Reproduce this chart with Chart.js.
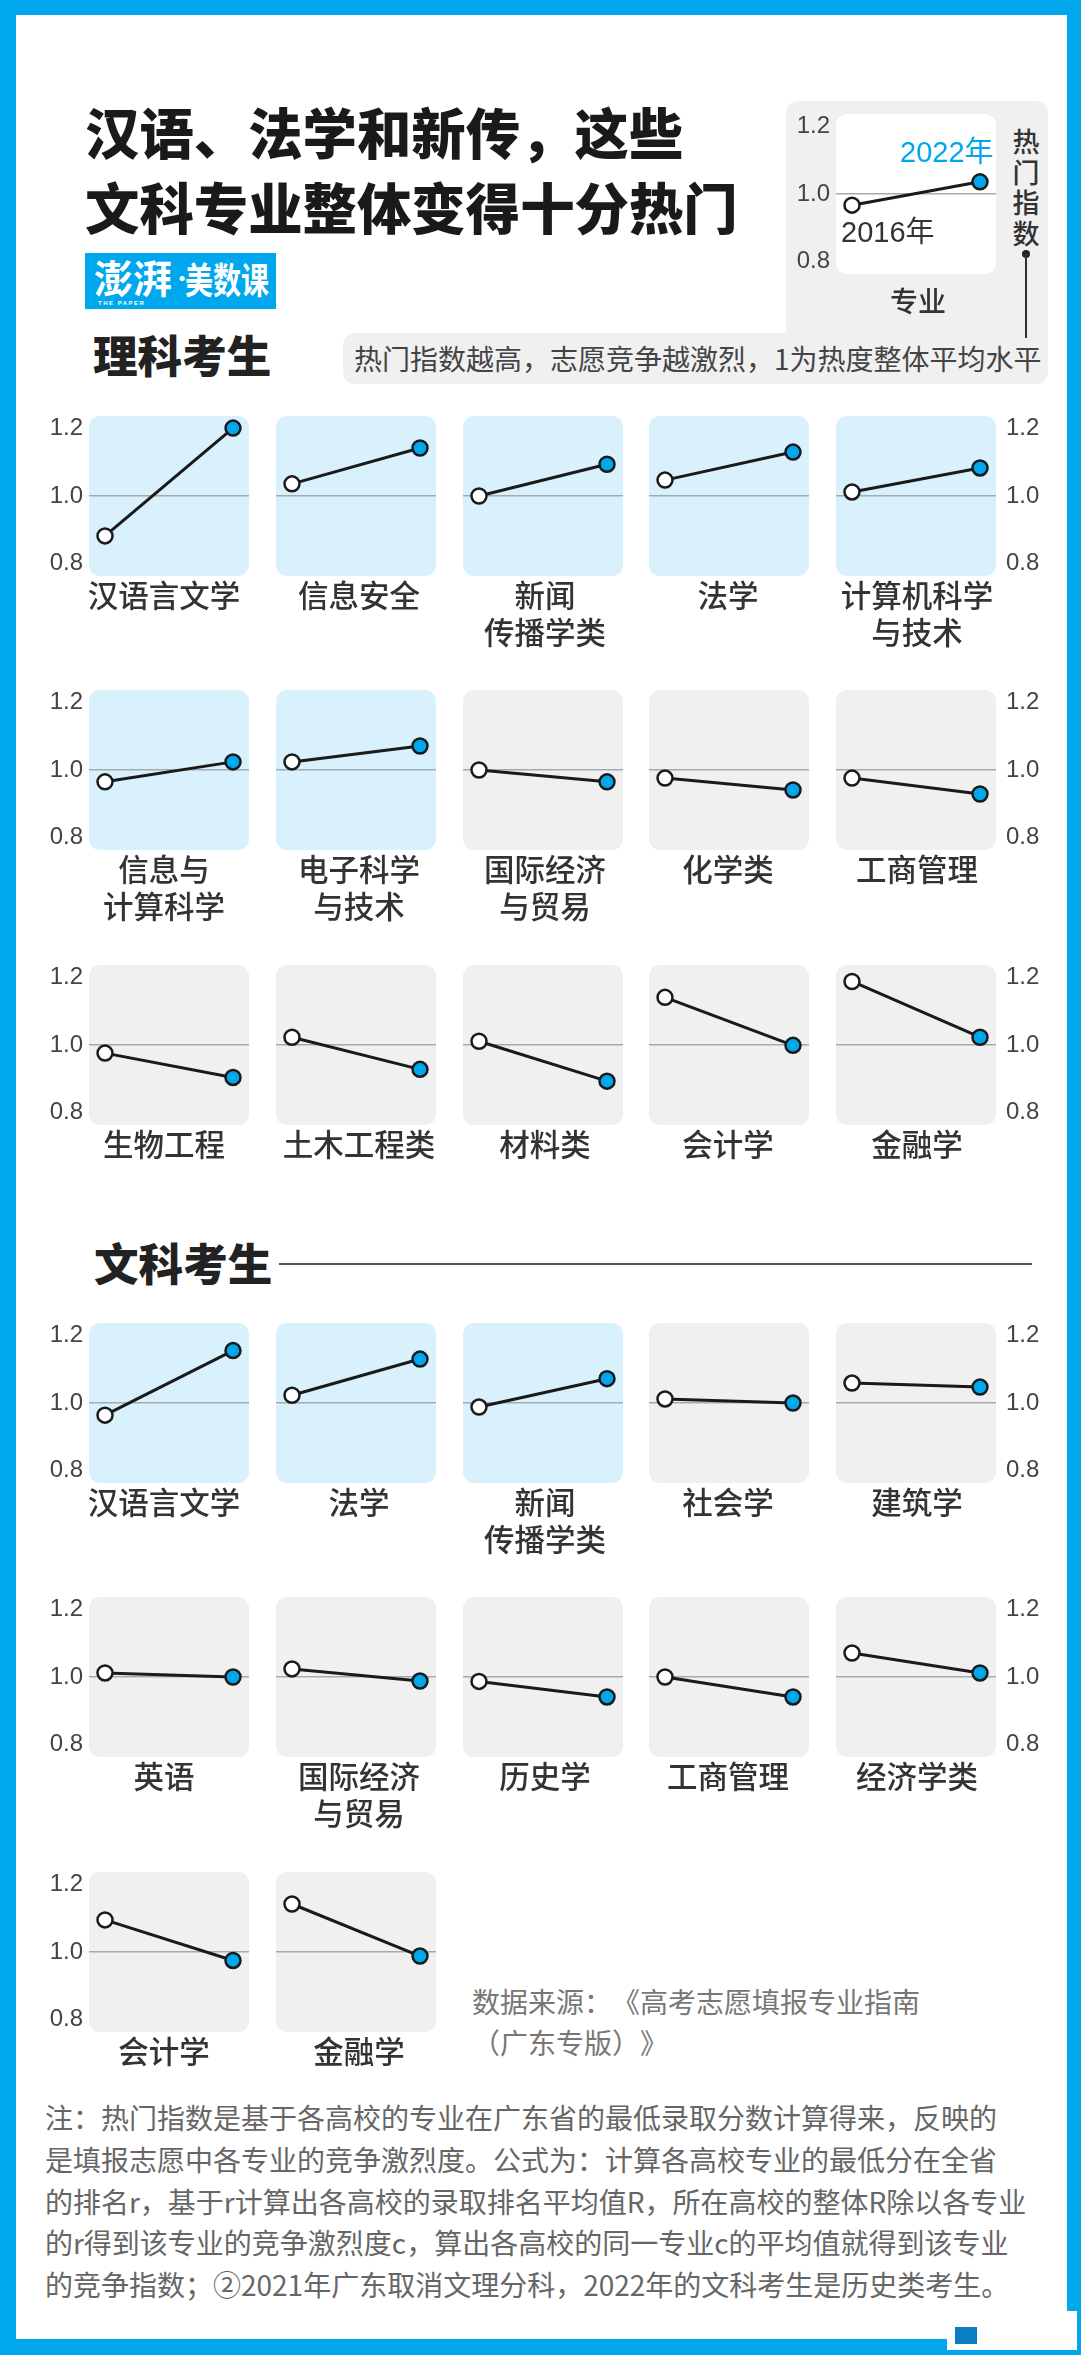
<!DOCTYPE html>
<html lang="zh">
<head>
<meta charset="utf-8">
<title>汉语、法学和新传，这些文科专业整体变得十分热门</title>
<script src="https://cdn.jsdelivr.net/npm/chart.js@4"></script>
<style>
  html, body { margin: 0; padding: 0; background: #fff; }
  #page { position: relative; width: 1081px; height: 2355px; overflow: hidden; background: #fff;
    font-family: "Liberation Sans", "Noto Sans CJK SC", sans-serif; color: #333; text-spacing-trim: space-all; }
  #page div, #page canvas { position: absolute; }
  .frame { background: #00a7ed; }
  .title { left: 85px; font: 900 54.4px/72px "Noto Sans CJK SC"; color: #1a1a1a; white-space: nowrap; }
  .section { font: 900 44.6px/50px "Noto Sans CJK SC"; color: #222; white-space: nowrap; }
  .box { background: #f0f0f0; border-radius: 12px; }
  .cat { font: 500 30.5px/37px "Noto Sans CJK SC"; color: #333; text-align: center; width: 200px; white-space: nowrap; }
  .note { left: 45px; font: 400 28px/42px "Noto Sans CJK SC"; color: #666; white-space: nowrap; }
  .src { left: 472px; font: 400 28px/42px "Noto Sans CJK SC"; color: #777; white-space: nowrap; }
  .logo { color: #fff; white-space: nowrap; font-family: "Noto Sans CJK SC"; font-weight: 700; }
</style>
</head>
<body>
<div id="page">
  <div class="frame" style="left:0;top:0;width:1081px;height:15px"></div>
  <div class="frame" style="left:0;top:2339px;width:1081px;height:16px"></div>
  <div class="frame" style="left:0;top:0;width:16px;height:2355px"></div>
  <div class="frame" style="left:1067px;top:0;width:14px;height:2355px"></div>

  <div class="title" style="top:95px">汉语、法学和新传，这些</div>
  <div class="title" style="top:170px">文科专业整体变得十分热门</div>

  <div style="left:85px;top:253px;width:191px;height:56px;background:#00a7ed"></div>
  <div class="logo" style="left:94px;top:252px;font-size:39px;line-height:48px">澎湃</div>
  <div class="logo" style="left:172px;top:258px;font-size:20px;line-height:40px;width:10px;text-align:center">·</div>
  <div class="logo" style="left:185px;top:258px;font-size:28px;line-height:40px;transform:scaleY(1.3)">美数课</div>
  <div class="logo" style="left:98px;top:299px;font:700 6px/8px 'Liberation Sans';letter-spacing:1.5px">THE PAPER</div>

  <div class="section" style="left:93px;top:329px">理科考生</div>

  <div class="box" style="left:786px;top:101px;width:262px;height:270px"></div>
  <div class="box" style="left:343px;top:333px;width:705px;height:51px"></div>
  <canvas id="legendChart"></canvas>
  <div style="left:900px;top:135px;font:400 29px/34px 'Liberation Sans','Noto Sans CJK SC';color:#00a7ed;white-space:nowrap">2022年</div>
  <div style="left:841px;top:215px;font:400 29px/34px 'Liberation Sans','Noto Sans CJK SC';color:#333;white-space:nowrap">2016年</div>
  <div style="left:890px;top:283px;font:500 28px/34px 'Noto Sans CJK SC';color:#333;white-space:nowrap">专业</div>
  <div style="left:1012px;top:126px;width:28px;font:500 27px/30.5px 'Noto Sans CJK SC';color:#333;text-align:center">热<br>门<br>指<br>数</div>
  <div style="left:1022px;top:250px;width:8px;height:8px;border-radius:50%;background:#222"></div>
  <div style="left:1025px;top:254px;width:1.5px;height:84px;background:#333"></div>
  <div style="left:354px;top:338px;font:400 28px/40px 'Noto Sans CJK SC';color:#444;white-space:nowrap">热门指数越高，志愿竞争越激烈，1为热度整体平均水平</div>

  <div class="section" style="left:94px;top:1237px">文科考生</div>
  <div style="left:279px;top:1263px;width:753px;height:2px;background:#555"></div>

  <div class="src" style="top:1980px">数据来源：《高考志愿填报专业指南</div>
  <div class="src" style="top:2021px">（广东专版）》</div>

  <div class="note" style="top:2096px">注：热门指数是基于各高校的专业在广东省的最低录取分数计算得来，反映的</div>
  <div class="note" style="top:2138px">是填报志愿中各专业的竞争激烈度。公式为：计算各高校专业的最低分在全省</div>
  <div class="note" style="top:2180px">的排名r，基于r计算出各高校的录取排名平均值R，所在高校的整体R除以各专业</div>
  <div class="note" style="top:2221px">的r得到该专业的竞争激烈度c，算出各高校的同一专业c的平均值就得到该专业</div>
  <div class="note" style="top:2263px">的竞争指数；②2021年广东取消文理分科，2022年的文科考生是历史类考生。</div>

  <div style="left:947px;top:2311px;width:130px;height:39px;background:#fff"></div>
  <div style="left:955px;top:2327px;width:22px;height:17px;background:#0a7fc0"></div>
</div>

<script>
// 理科考生
var scienceMajors = [
  ["汉语言文学"], ["信息安全"], ["新闻", "传播学类"], ["法学"], ["计算机科学", "与技术"],
  ["信息与", "计算科学"], ["电子科学", "与技术"], ["国际经济", "与贸易"], ["化学类"], ["工商管理"],
  ["生物工程"], ["土木工程类"], ["材料类"], ["会计学"], ["金融学"]
];
var science2016 = [0.882, 1.036, 1.000, 1.047, 1.012, 0.965, 1.024, 1.000, 0.976, 0.976, 0.976, 1.023, 1.011, 1.141, 1.188];
var science2022 = [1.201, 1.142, 1.094, 1.130, 1.083, 1.024, 1.071, 0.965, 0.941, 0.929, 0.904, 0.928, 0.893, 0.999, 1.023];

// 文科考生
var artsMajors = [
  ["汉语言文学"], ["法学"], ["新闻", "传播学类"], ["社会学"], ["建筑学"],
  ["英语"], ["国际经济", "与贸易"], ["历史学"], ["工商管理"], ["经济学类"],
  ["会计学"], ["金融学"]
];
var arts2016 = [0.964, 1.023, 0.988, 1.012, 1.059, 1.012, 1.024, 0.987, 1.000, 1.071, 1.095, 1.142];
var arts2022 = [1.155, 1.130, 1.072, 1.000, 1.047, 1.000, 0.988, 0.941, 0.941, 1.012, 0.975, 0.988];

// 图例
var legend2016 = 0.967;
var legend2022 = 1.036;

var yTicks = [0.8, 1.0, 1.2];

var BLUE = "#00a7ed";
var panelLeft = [89, 276, 463, 649, 836];
var labelCenter = [164, 359, 545, 728, 917];
var scienceTop = [416, 690, 965];
var artsTop = [1323, 1597, 1872];
var PANEL = 160;
var AXIS = 60;

var panelBackground = {
  id: "panelBackground",
  beforeDraw: function(chart, args, opts) {
    var a = chart.chartArea, ctx = chart.ctx;
    ctx.save();
    ctx.fillStyle = opts.color;
    ctx.beginPath();
    ctx.roundRect(a.left, a.top, a.right - a.left, a.bottom - a.top, 11);
    ctx.fill();
    ctx.restore();
  }
};

// side: "left", "right" or null, canvas gets wider when it carries an axis
function drawPanel(canvas, x, y, from, to, side, color) {
  var left = side === "left" ? x - AXIS : x;
  var width = side ? PANEL + AXIS : PANEL;
  canvas.style.left = left + "px";
  canvas.style.top = y + "px";
  canvas.width = width;
  canvas.height = PANEL;
  canvas.style.width = width + "px";
  canvas.style.height = PANEL + "px";

  return new Chart(canvas.getContext("2d"), {
    type: "line",
    plugins: [panelBackground],
    data: {
      datasets: [{
        data: [{x: 0, y: from}, {x: 1, y: to}],
        borderColor: "#1a1a1a",
        borderWidth: 3,
        pointRadius: 7.5,
        pointBorderWidth: 2.5,
        pointBorderColor: "#1a1a1a",
        pointBackgroundColor: ["#fff", BLUE],
        clip: false,
        tension: 0
      }]
    },
    options: {
      responsive: false,
      animation: false,
      layout: {padding: 0, autoPadding: false},
      plugins: {
        legend: {display: false},
        tooltip: {enabled: false},
        panelBackground: {color: color}
      },
      scales: {
        x: {type: "linear", min: -0.125, max: 1.125, display: false},
        y: {
          type: "linear",
          position: side || "left",
          min: 0.7633,
          max: 1.2367,
          display: true,
          afterBuildTicks: function(axis) {
            axis.ticks = yTicks.map(function(v) { return {value: v}; });
          },
          afterFit: function(axis) {
            axis.width = side ? AXIS : 0;
            axis.paddingTop = 0;
            axis.paddingBottom = 0;
          },
          border: {display: false},
          grid: {
            drawTicks: false,
            lineWidth: 1.5,
            color: function(c) { return c.tick && c.tick.value === 1 ? "#a3abb0" : "rgba(0,0,0,0)"; }
          },
          ticks: {
            display: !!side,
            padding: side === "left" ? 6 : 10,
            color: "#444",
            font: {family: "'Liberation Sans'", size: 24},
            callback: function(v) { return v.toFixed(1); }
          }
        }
      }
    }
  });
}

function addLabel(lines, col, y) {
  var div = document.createElement("div");
  div.className = "cat";
  div.style.left = (labelCenter[col] - 100) + "px";
  div.style.top = y + "px";
  div.innerHTML = lines.join("<br>");
  document.getElementById("page").appendChild(div);
}

function drawGroup(majors, from, to, rowTops) {
  majors.forEach(function(name, i) {
    var col = i % 5;
    var y = rowTops[Math.floor(i / 5)];
    var side = col === 0 ? "left" : (col === 4 ? "right" : null);
    var canvas = document.createElement("canvas");
    document.getElementById("page").appendChild(canvas);
    drawPanel(canvas, panelLeft[col], y, from[i], to[i], side, to[i] > from[i] ? "#d9f1fc" : "#f0f0f0");
    addLabel(name, col, y + 160);
  });
}

function init() {
  drawPanel(document.getElementById("legendChart"), 836, 114, legend2016, legend2022, "left", "#fff");
  drawGroup(scienceMajors, science2016, science2022, scienceTop);
  drawGroup(artsMajors, arts2016, arts2022, artsTop);
}

init();
</script>
</body>
</html>
